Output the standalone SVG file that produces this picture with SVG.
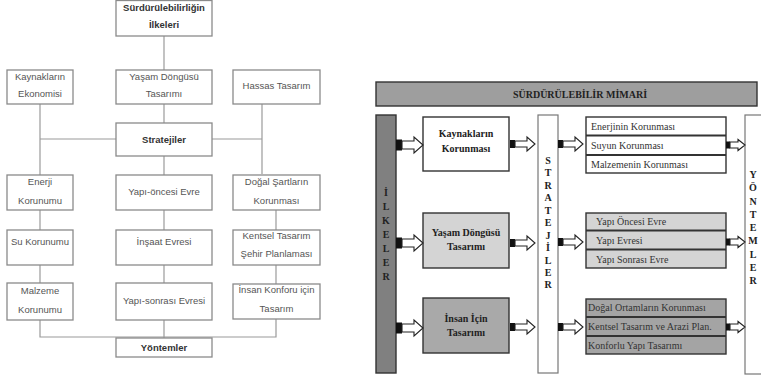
<svg xmlns="http://www.w3.org/2000/svg" xmlns:xlink="http://www.w3.org/1999/xlink" width="761" height="380" viewBox="0 0 761 380">
<style>
.lb{fill:#fff;stroke:#8a8a8a;stroke-width:1.3}
.lt{font-family:"Liberation Sans",Arial,sans-serif;font-size:9.5px;fill:#555;text-anchor:middle}
.ltb{font-weight:bold;fill:#333}
.ln{stroke:#9a9a9a;stroke-width:1.2;fill:none}
.rb{stroke:#333;stroke-width:1.4}
.rt{font-family:"Liberation Serif","Times New Roman",serif;font-size:10px;font-weight:bold;fill:#222;text-anchor:middle}
.rl{font-family:"Liberation Serif","Times New Roman",serif;font-size:10px;fill:#333}
.vt{font-family:"Liberation Serif","Times New Roman",serif;font-size:10px;font-weight:bold;fill:#222;text-anchor:middle}
.dv{stroke:#333;stroke-width:2}
.ah{fill:#fff;stroke:#222;stroke-width:1.1}
</style>
<defs>
<g id="arrA"><rect x="0" y="-5.5" width="6" height="11" fill="#111"/><polygon class="ah" points="6,-4 18,-4 18,-8 27,0 18,8 18,4 6,4"/></g>
<g id="arrB"><rect x="0" y="-4" width="5" height="8" fill="#111"/><polygon class="ah" points="5,-3 17,-3 17,-7 25,0 17,7 17,3 5,3"/></g>
<g id="arrD"><rect x="0" y="-3.5" width="4" height="7" fill="#111"/><polygon class="ah" points="4,-3 12,-3 12,-5.5 19,0 12,5.5 12,3 4,3"/></g>
</defs>
<rect width="761" height="380" fill="#fff"/>

<!-- LEFT DIAGRAM connectors -->
<g id="left-connectors">
<line class="ln" x1="164" y1="36" x2="164" y2="70"/>
<line class="ln" x1="164" y1="104" x2="164" y2="123"/>
<line class="ln" x1="164" y1="156" x2="164" y2="175"/>
<line class="ln" x1="164" y1="210" x2="164" y2="230"/>
<line class="ln" x1="164" y1="265" x2="164" y2="283"/>
<line class="ln" x1="164" y1="320" x2="164" y2="338"/>
<line class="ln" x1="40" y1="104" x2="40" y2="175"/>
<line class="ln" x1="40" y1="139" x2="116" y2="139"/>
<line class="ln" x1="212" y1="139" x2="262" y2="139"/>
<line class="ln" x1="262" y1="104" x2="262" y2="174"/>
<line class="ln" x1="40" y1="210" x2="40" y2="230"/>
<line class="ln" x1="40" y1="265" x2="40" y2="283"/>
<line class="ln" x1="276" y1="210" x2="276" y2="230"/>
<line class="ln" x1="276" y1="265" x2="276" y2="284"/>
<polyline class="ln" points="40,320 40,337 276,337 276,319"/>
</g>

<g id="n-ilkeler"><rect class="lb" x="116" y="0.5" width="96" height="35.5"/><text class="lt ltb" x="164" y="11">Sürdürülebilirliğin</text><text class="lt ltb" x="164" y="28">İlkeleri</text></g>
<g id="n-kaynak"><rect class="lb" x="7" y="70" width="66" height="34"/><text class="lt" x="40" y="80">Kaynakların</text><text class="lt" x="40" y="97">Ekonomisi</text></g>
<g id="n-yasam"><rect class="lb" x="116" y="70" width="96" height="34"/><text class="lt" x="164" y="80">Yaşam Döngüsü</text><text class="lt" x="164" y="97">Tasarımı</text></g>
<g id="n-hassas"><rect class="lb" x="233" y="70" width="87" height="34"/><text class="lt" x="276.5" y="88.5">Hassas Tasarım</text></g>
<g id="n-strat"><rect class="lb" x="116" y="123" width="96" height="33"/><text class="lt ltb" x="164" y="142.5">Stratejiler</text></g>
<g id="n-enerji"><rect class="lb" x="7" y="175" width="66" height="35"/><text class="lt" x="40" y="185">Enerji</text><text class="lt" x="40" y="204">Korunumu</text></g>
<g id="n-yapionce"><rect class="lb" x="116" y="175" width="96" height="35"/><text class="lt" x="164" y="195">Yapı-öncesi Evre</text></g>
<g id="n-dogal"><rect class="lb" x="233" y="175" width="87" height="35"/><text class="lt" x="276.5" y="185">Doğal Şartların</text><text class="lt" x="276.5" y="204">Korunması</text></g>
<g id="n-su"><rect class="lb" x="7" y="230" width="66" height="35"/><text class="lt" x="40" y="245">Su Korunumu</text></g>
<g id="n-insaat"><rect class="lb" x="116" y="230" width="96" height="35"/><text class="lt" x="164" y="245">İnşaat Evresi</text></g>
<g id="n-kentsel"><rect class="lb" x="233" y="230" width="87" height="35"/><text class="lt" x="276.5" y="239">Kentsel Tasarım</text><text class="lt" x="276.5" y="257">Şehir Planlaması</text></g>
<g id="n-malzeme"><rect class="lb" x="7" y="283" width="66" height="37"/><text class="lt" x="40" y="294">Malzeme</text><text class="lt" x="40" y="313">Korunumu</text></g>
<g id="n-yapisonra"><rect class="lb" x="116" y="283" width="96" height="37"/><text class="lt" x="164" y="304">Yapı-sonrası Evresi</text></g>
<g id="n-insan"><rect class="lb" x="233" y="284" width="87" height="35"/><text class="lt" x="276.5" y="293">İnsan Konforu için</text><text class="lt" x="276.5" y="312">Tasarım</text></g>
<g id="n-yontem"><rect class="lb" x="116" y="338" width="96" height="19"/><text class="lt ltb" x="164" y="351">Yöntemler</text></g>

<!-- RIGHT DIAGRAM -->
<g id="r-title"><rect class="rb" x="376" y="82" width="381" height="24" fill="#9e9e9e"/><text class="rt" x="580" y="98" font-size="11">SÜRDÜRÜLEBİLİR MİMARİ</text></g>

<g id="r-ilkeler"><rect class="rb" x="376" y="115" width="20" height="258" fill="#808080"/>
<text class="vt" x="386" y="196">İ</text><text class="vt" x="386" y="210">L</text><text class="vt" x="386" y="224">K</text><text class="vt" x="386" y="238">E</text><text class="vt" x="386" y="252">L</text><text class="vt" x="386" y="266">E</text><text class="vt" x="386" y="280">R</text></g>

<g id="r-kaynak"><rect class="rb" x="423" y="117" width="86" height="54" fill="#fff"/><text class="rt" x="466" y="137">Kaynakların</text><text class="rt" x="466" y="152">Korunması</text></g>
<g id="r-yasam"><rect class="rb" x="423" y="213" width="86" height="55" fill="#d4d4d4"/><text class="rt" x="466" y="236">Yaşam Döngüsü</text><text class="rt" x="466" y="250">Tasarımı</text></g>
<g id="r-insan"><rect class="rb" x="423" y="298" width="86" height="55" fill="#a9a9a9"/><text class="rt" x="466" y="322">İnsan İçin</text><text class="rt" x="466" y="336">Tasarımı</text></g>

<g id="r-strat"><rect x="538" y="115" width="20" height="258" fill="#fff" stroke="#777" stroke-width="1.2"/>
<text class="vt" x="548" y="164">S</text><text class="vt" x="548" y="176">T</text><text class="vt" x="548" y="189">R</text><text class="vt" x="548" y="201">A</text><text class="vt" x="548" y="214">T</text><text class="vt" x="548" y="226">E</text><text class="vt" x="548" y="239">J</text><text class="vt" x="548" y="251">İ</text><text class="vt" x="548" y="264">L</text><text class="vt" x="548" y="276">E</text><text class="vt" x="548" y="288">R</text></g>

<g id="r-grup1"><rect class="rb" x="586" y="117" width="140" height="56" fill="#fff"/>
<line class="dv" x1="586" y1="135.5" x2="726" y2="135.5"/><line class="dv" x1="586" y1="155" x2="726" y2="155"/>
<text class="rl" x="591" y="130">Enerjinin Korunması</text><text class="rl" x="591" y="149">Suyun Korunması</text><text class="rl" x="591" y="168">Malzemenin Korunması</text></g>
<g id="r-grup2"><rect class="rb" x="586" y="213" width="140" height="55" fill="#d4d4d4"/>
<line class="dv" x1="586" y1="230.5" x2="726" y2="230.5"/><line class="dv" x1="586" y1="249.5" x2="726" y2="249.5"/>
<text class="rl" x="596" y="225">Yapı Öncesi Evre</text><text class="rl" x="596" y="244">Yapı Evresi</text><text class="rl" x="596" y="263">Yapı Sonrası Evre</text></g>
<g id="r-grup3"><rect class="rb" x="586" y="299" width="140" height="55" fill="#a4a4a4"/>
<line class="dv" x1="586" y1="317" x2="726" y2="317"/><line class="dv" x1="586" y1="336" x2="726" y2="336"/>
<text class="rl" x="588" y="311">Doğal Ortamların Korunması</text><text class="rl" x="588" y="330">Kentsel Tasarım ve Arazi Plan.</text><text class="rl" x="588" y="349">Konforlu Yapı Tasarımı</text></g>

<g id="r-yontem"><rect x="745" y="115" width="30" height="259" fill="#fff" stroke="#777" stroke-width="1.2"/>
<text class="vt" x="753" y="178">Y</text><text class="vt" x="753" y="191">Ö</text><text class="vt" x="753" y="205">N</text><text class="vt" x="753" y="218">T</text><text class="vt" x="753" y="231">E</text><text class="vt" x="753" y="244">M</text><text class="vt" x="753" y="258">L</text><text class="vt" x="753" y="271">E</text><text class="vt" x="753" y="284">R</text></g>

<g id="r-connectors">
<use xlink:href="#arrA" transform="translate(396,145)"/>
<use xlink:href="#arrA" transform="translate(396,243)"/>
<use xlink:href="#arrA" transform="translate(396,328)"/>
<use xlink:href="#arrB" transform="translate(510,144)"/>
<use xlink:href="#arrB" transform="translate(510,243)"/>
<use xlink:href="#arrB" transform="translate(510,327)"/>
<use xlink:href="#arrB" transform="translate(558,144)"/>
<use xlink:href="#arrB" transform="translate(558,242)"/>
<use xlink:href="#arrB" transform="translate(558,327)"/>
<use xlink:href="#arrD" transform="translate(726,145)"/>
<use xlink:href="#arrD" transform="translate(726,242)"/>
<use xlink:href="#arrD" transform="translate(726,327)"/>
</g>
</svg>
